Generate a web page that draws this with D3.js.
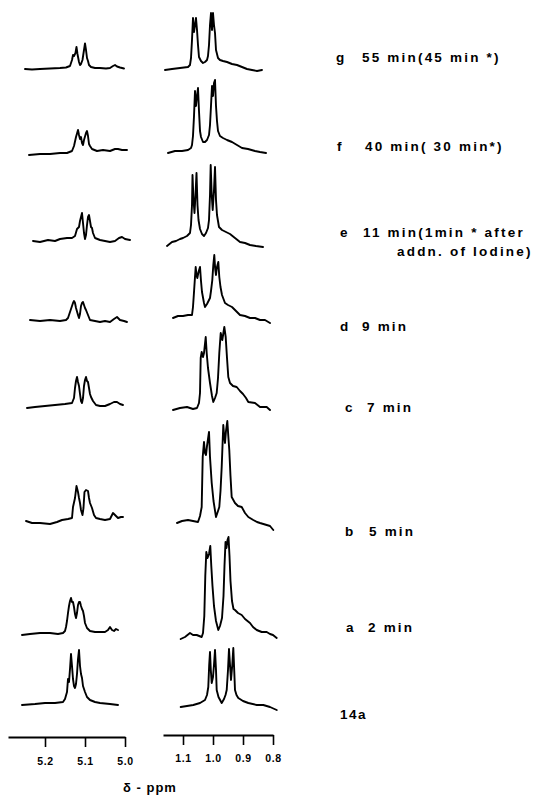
<!DOCTYPE html>
<html><head><meta charset="utf-8">
<script src="https://cdn.jsdelivr.net/npm/d3@7/dist/d3.min.js"></script>
<style>body{margin:0;background:#fff}svg{display:block}</style>
</head><body>
<svg id="chart" width="540" height="795"></svg>
<script>
// ---------- DATA ----------
const rows = ["g","f","e","d","c","b","a","14a"];
const leftTicks = [5.2, 5.1, 5.0];
const rightTicks = [1.1, 1.0, 0.9, 0.8];
const labelLetters = ["g","f","e","d","c","b","a","14a"];
const labelTexts = ["55 min(45 min *)","40 min( 30 min*)","11 min(1min * after","9 min","7 min","5 min","2 min",""];
const labelSecond = ["","","addn. of Iodine)","","","","",""];
const axisTitle = "δ - ppm";

// spectra: [ppm, intensity]
const leftG = [[5.25,-1],[5.2325,-1.5],[5.2125,-1],[5.1875,-0.5],[5.1625,0],[5.1475,0.5],[5.1375,2],[5.1325,8],[5.13,13],[5.1275,12],[5.1238,15],[5.1213,21],[5.1188,14],[5.115,6],[5.1125,3],[5.11,4],[5.1063,8],[5.1025,18],[5.1,24.5],[5.0975,18],[5.095,10],[5.0925,7],[5.09,3],[5.085,1],[5.075,0],[5.0625,0],[5.0475,-0.5],[5.0375,0],[5.03,2],[5.025,3],[5.02,1.5],[5.0125,0.5],[5.0025,-0.5]];
const leftF = [[5.24,-3],[5.2125,-2],[5.1875,-2],[5.1625,-1],[5.145,-1],[5.1325,1],[5.1275,6],[5.1225,15],[5.1175,22],[5.115,17],[5.1125,13],[5.11,15],[5.1075,9],[5.105,7],[5.1025,12],[5.0975,19],[5.095,21],[5.0925,16],[5.09,8],[5.0875,6],[5.0825,3],[5.07,1],[5.055,2],[5.0375,1],[5.025,3],[5.0175,3],[5.0075,2],[4.995,2]];
const leftE = [[5.23,0],[5.2125,-1],[5.1925,1],[5.175,0],[5.1625,2],[5.145,3],[5.1325,3],[5.125,5],[5.12,12],[5.115,14],[5.1125,20],[5.11,24],[5.1075,28],[5.105,18],[5.1025,8],[5.1,2],[5.0975,6],[5.095,16],[5.0925,24],[5.09,26],[5.0875,20],[5.085,14],[5.0825,13],[5.08,8],[5.075,3],[5.0625,1],[5.05,0],[5.0375,-1],[5.025,0],[5.015,3],[5.0075,4],[5.0,2],[4.9875,1]];
const leftD = [[5.2375,0],[5.2125,-1],[5.1875,0],[5.1625,-1],[5.1475,0],[5.1425,2],[5.1375,8],[5.1325,14],[5.13,17],[5.1275,19],[5.125,17],[5.1225,12],[5.1175,5],[5.115,2],[5.1125,6],[5.11,14],[5.1075,17],[5.105,18],[5.1025,15],[5.1,12],[5.0975,10],[5.0925,5],[5.0875,0],[5.075,-1],[5.0625,-2],[5.05,-1],[5.0375,-2],[5.0275,1],[5.02,3],[5.0125,0],[5.0025,-1],[4.995,-2]];
const leftC = [[5.245,-2],[5.225,-1],[5.2,0],[5.175,1],[5.15,2],[5.1325,3],[5.1275,8],[5.125,18],[5.1225,25],[5.12,29],[5.1175,24],[5.115,20],[5.1125,12],[5.11,5],[5.1075,3],[5.105,8],[5.1025,20],[5.1,26],[5.0975,29],[5.095,25],[5.0925,24],[5.09,18],[5.0875,12],[5.085,9],[5.08,5],[5.0725,1],[5.0625,0],[5.05,0],[5.0375,2],[5.0275,4],[5.02,4],[5.0125,2],[5.005,1]];
const leftB = [[5.2475,-1],[5.2325,-3],[5.2125,-3],[5.1875,-4],[5.17,-2],[5.1575,0],[5.1425,1],[5.1325,2],[5.13,13],[5.125,22],[5.1213,34],[5.1175,28],[5.115,22],[5.1125,17],[5.11,10],[5.1063,5],[5.1038,12],[5.1013,28],[5.0975,30],[5.0925,29],[5.09,22],[5.0875,17],[5.0825,12],[5.0775,5],[5.0725,2],[5.0625,1],[5.05,0],[5.0375,1],[5.03,7],[5.025,5],[5.0175,2],[5.01,3],[5.005,3]];
const leftA = [[5.2575,-2],[5.2375,-1],[5.2125,0],[5.1875,0],[5.1675,-1],[5.155,0],[5.15,2],[5.1475,6],[5.145,12],[5.1425,20],[5.14,27],[5.1375,32],[5.135,35],[5.1325,31],[5.13,31],[5.1275,26],[5.125,19],[5.1225,15],[5.12,20],[5.1175,28],[5.115,31],[5.1125,31],[5.11,27],[5.1075,24],[5.105,22],[5.1025,17],[5.1,10],[5.095,5],[5.0875,2],[5.075,1],[5.0625,1],[5.05,1],[5.0425,3],[5.0375,6],[5.0325,3],[5.0275,2],[5.0225,4],[5.0175,3]];
const left14a = [[5.2575,-1],[5.225,0],[5.2,1],[5.175,1],[5.155,2],[5.15,5],[5.145,12],[5.1425,25],[5.14,22],[5.1375,35],[5.135,50],[5.1325,38],[5.13,25],[5.1275,18],[5.125,16],[5.1225,20],[5.12,30],[5.1175,45],[5.115,54],[5.1125,38],[5.11,30],[5.1075,26],[5.105,18],[5.1,12],[5.095,7],[5.0875,4],[5.075,2],[5.0625,1],[5.0375,0],[5.0175,-1]];

const rightG = [[1.16,0],[1.1367,1],[1.11,2],[1.0833,3],[1.0767,5],[1.0733,12],[1.07,30],[1.0667,52],[1.0633,38],[1.06,45],[1.0567,52],[1.0533,40],[1.05,25],[1.0467,13],[1.04,9],[1.0333,7],[1.0267,8],[1.02,10],[1.0167,14],[1.0133,25],[1.01,45],[1.0067,57],[1.0033,40],[1.0,57],[0.9967,45],[0.9933,37],[0.99,20],[0.9833,12],[0.9767,10],[0.9667,9],[0.9533,8],[0.9367,6],[0.92,5],[0.9033,3],[0.8867,1],[0.87,0],[0.8533,-1],[0.8367,0]];
const rightF = [[1.15,-2],[1.1267,0],[1.1033,0],[1.0833,1],[1.0733,3],[1.07,6],[1.0667,15],[1.0633,35],[1.06,60],[1.0567,45],[1.0533,55],[1.05,63],[1.0467,40],[1.0433,20],[1.04,14],[1.0333,9],[1.0267,9],[1.02,11],[1.0133,16],[1.01,26],[1.0067,45],[1.0033,65],[1.0,55],[0.9967,68],[0.9933,71],[0.99,45],[0.9867,30],[0.9833,20],[0.9767,15],[0.9667,13],[0.9533,11],[0.9367,9],[0.92,6],[0.9033,3],[0.8833,2],[0.86,0],[0.8433,-1],[0.8233,-2]];
const rightE = [[1.1533,-1],[1.1367,3],[1.1233,4],[1.11,6],[1.1,7],[1.0867,9],[1.0767,12],[1.0733,20],[1.07,40],[1.0683,70],[1.065,45],[1.0617,32],[1.0583,50],[1.055,72],[1.0517,40],[1.0483,25],[1.0433,16],[1.0367,11],[1.03,9],[1.0233,12],[1.0167,17],[1.0133,25],[1.01,50],[1.0077,80],[1.0043,50],[1.001,35],[0.9967,55],[0.9933,78],[0.99,45],[0.9867,30],[0.98,18],[0.97,15],[0.9567,13],[0.9433,11],[0.9267,7],[0.91,3],[0.8933,2],[0.8767,0],[0.8567,-1],[0.8333,-2]];
const rightD = [[1.1333,-1],[1.1167,1],[1.1,1],[1.0833,2],[1.07,2],[1.0667,10],[1.0633,25],[1.06,40],[1.0577,50],[1.055,42],[1.0523,39],[1.0483,45],[1.0433,50],[1.04,36],[1.0367,25],[1.03,14],[1.0267,10],[1.02,13],[1.01,19],[1.0067,26],[1.0023,37],[0.999,52],[0.9957,62],[0.9927,48],[0.99,42],[0.9867,50],[0.9823,55],[0.979,40],[0.975,30],[0.97,22],[0.96,14],[0.95,12],[0.9367,10],[0.9233,6],[0.91,2],[0.8933,1],[0.8767,-1],[0.86,-1],[0.8433,-3],[0.8267,-3],[0.81,-6]];
const rightC = [[1.1333,-2],[1.11,0],[1.0867,1],[1.0667,-1],[1.0533,0],[1.0467,5],[1.0433,15],[1.041,50],[1.0377,56],[1.0333,51],[1.03,55],[1.0243,71],[1.021,55],[1.0167,40],[1.01,25],[1.0033,12],[0.999,6],[0.9933,10],[0.9877,15],[0.9833,30],[0.979,55],[0.9743,75],[0.969,68],[0.9623,81],[0.9577,71],[0.9533,50],[0.949,31],[0.9433,25],[0.9333,22],[0.921,21],[0.91,17],[0.9,14],[0.89,10],[0.8823,6],[0.86,5],[0.8433,1],[0.821,1],[0.81,-2]];
const rightB = [[1.12,-2],[1.1033,0],[1.0833,1],[1.0667,0],[1.05,-1],[1.0433,5],[1.0377,14],[1.0343,64],[1.03,79],[1.0267,68],[1.0233,66],[1.02,75],[1.0133,89],[1.01,64],[1.0043,38],[0.9983,20],[0.99,4],[0.9833,10],[0.979,14],[0.975,30],[0.971,54],[0.9657,96],[0.9627,85],[0.96,78],[0.9567,90],[0.9523,100],[0.949,85],[0.9457,71],[0.9417,45],[0.9377,24],[0.9267,18],[0.9167,15],[0.9043,14],[0.8933,8],[0.8823,4],[0.8657,1],[0.8533,-1],[0.8433,-2],[0.821,-4],[0.81,-5],[0.799,-9]];
const rightA = [[1.1077,-3],[1.0933,-1],[1.0767,3],[1.0667,1],[1.0543,1],[1.0377,-1],[1.0333,3],[1.029,20],[1.0257,60],[1.0223,84],[1.0183,78],[1.0133,82],[1.009,90],[1.0057,70],[1.0017,50],[0.9967,30],[0.99,15],[0.9823,6],[0.9767,10],[0.97,18],[0.965,40],[0.9617,70],[0.9583,94],[0.955,88],[0.9517,96],[0.9483,99],[0.945,80],[0.9417,55],[0.9367,35],[0.9317,27],[0.9267,26],[0.9167,23],[0.9043,21],[0.8933,17],[0.8767,13],[0.8667,9],[0.8543,6],[0.8377,4],[0.821,4],[0.81,2],[0.8,1],[0.7877,-2]];
const right14a = [[1.1077,-2],[1.0867,-1],[1.0657,0],[1.0433,2],[1.0267,5],[1.02,10],[1.0157,18],[1.0127,40],[1.01,53],[1.0073,35],[1.0043,22],[1.0,28],[0.9967,40],[0.9933,55],[0.99,35],[0.9877,15],[0.9817,8],[0.971,2],[0.9633,6],[0.9583,10],[0.9543,15],[0.95,35],[0.9467,56],[0.9433,40],[0.94,25],[0.9357,40],[0.9323,57],[0.9293,35],[0.9267,15],[0.9217,10],[0.9157,7],[0.9,4],[0.8823,2],[0.8543,0],[0.8323,0],[0.81,-2],[0.7877,-5]];

const leftSeries = [leftG, leftF, leftE, leftD, leftC, leftB, leftA, left14a];
const rightSeries = [rightG, rightF, rightE, rightD, rightC, rightB, rightA, right14a];

// ---------- LAYOUT ----------
const leftBase  = [68,152,241,320,406,520,633,704];
const rightBase = [70,151,245,317,408,521,636,705];
const letterX = [336,337,340,340,345,345,346,340];
const textX   = [362,365,363,362,367,369,368,0];
const labelY  = [62,151,237,331,412,536,632,719];
const secondX = 397, secondDY = 19;

const svg = d3.select("#chart");
const xL = d3.scaleLinear().domain([5.2925, 5.0]).range([8, 125]);
const xR = d3.scaleLinear().domain([1.16667, 0.8]).range([163, 273]);
const yH = d3.scaleLinear().domain([0, 100]).range([0, -100]);

function drawSpec(data, xs, base) {
  const line = d3.line().x(d => xs(d[0])).y(d => base + yH(d[1]));
  svg.append("path").attr("d", line(data))
    .attr("fill","none").attr("stroke","#000").attr("stroke-width",1.9)
    .attr("stroke-linejoin","round").attr("stroke-linecap","round");
}
rows.forEach((r,i) => {
  drawSpec(leftSeries[i], xL, leftBase[i]);
  drawSpec(rightSeries[i], xR, rightBase[i]);
});

// labels
const font = "'Liberation Sans', Arial, sans-serif";
rows.forEach((r,i) => {
  svg.append("text").attr("x", letterX[i]).attr("y", labelY[i]).text(labelLetters[i])
    .attr("font-family", font).attr("font-weight","bold").attr("font-size",13.5)
    .attr("letter-spacing", 1.5).attr("fill","#000");
  if (labelTexts[i]) svg.append("text").attr("x", textX[i]).attr("y", labelY[i]).text(labelTexts[i])
    .attr("font-family", font).attr("font-weight","bold").attr("font-size",13.5)
    .attr("letter-spacing", 2.2).attr("fill","#000");
  if (labelSecond[i]) svg.append("text").attr("x", secondX).attr("y", labelY[i] + secondDY).text(labelSecond[i])
    .attr("font-family", font).attr("font-weight","bold").attr("font-size",13.5)
    .attr("letter-spacing", 2.2).attr("fill","#000");
});

// axes
function styleAxis(g) {
  g.select(".domain").attr("stroke-width", 2);
  g.selectAll(".tick line").attr("stroke-width", 1.6);
  g.selectAll(".tick text").attr("font-family", font).attr("font-weight","bold")
    .attr("font-size", 10.5).attr("letter-spacing", 0.6);
}
svg.append("g").attr("transform","translate(0,737)")
  .call(d3.axisBottom(xL).tickValues(leftTicks).tickFormat(d3.format(".1f"))
        .tickSize(10).tickSizeOuter(0).tickPadding(11))
  .call(styleAxis);
svg.append("g").attr("transform","translate(0,735)")
  .call(d3.axisBottom(xR).tickValues(rightTicks).tickFormat(d3.format(".1f"))
        .tickSize(10).tickSizeOuter(0).tickPadding(10))
  .call(styleAxis);

svg.append("text").attr("x", 150).attr("y", 792).attr("text-anchor","middle")
  .text(axisTitle).attr("font-family", font).attr("font-weight","bold")
  .attr("font-size", 13).attr("letter-spacing", 1).attr("fill","#000");
</script>
</body></html>
